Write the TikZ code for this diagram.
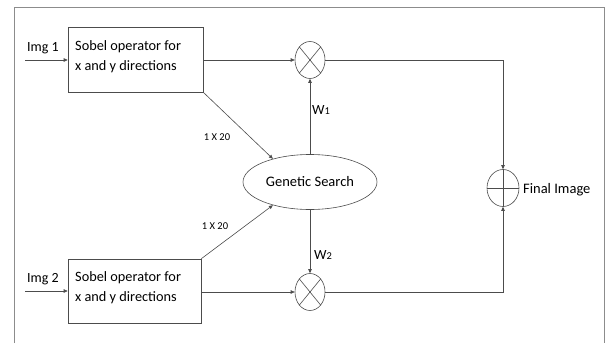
\documentclass[tikz,border=0pt]{standalone}
\usepackage{fontspec}
\setmainfont{Carlito}
\usetikzlibrary{arrows.meta,shapes.geometric}
\begin{document}
\begin{tikzpicture}[x=1pt,y=-1pt,
  line/.style={draw=black!70,line width=0.6pt},
  arr/.style={line,-{Triangle[length=4pt,width=3.5pt]}},
  sobel/.style={line,rectangle,minimum width=135pt,minimum height=65pt,inner sep=0pt},
  sobeltxt/.style={align=left,font=\fontsize{14.3}{20}\selectfont,inner sep=0pt,anchor=north west},
  oper/.style={line,ellipse,minimum width=30pt,minimum height=37pt,inner sep=0pt},
  lbl/.style={font=\fontsize{14}{16}\selectfont,inner sep=0pt},
  small/.style={font=\fontsize{10.5}{12}\selectfont,inner sep=0pt}]
\useasboundingbox (0,0) rectangle (612,343);
\draw[draw=black!45,line width=0.6pt] (14,343) -- (14,7) -- (604,7) -- (604,343);
% boxes
\node[sobel] (b1) at (135.5,59.5) {};
\node[sobeltxt] (s1) at (75,40) {Sobel operator for\\x and y directions};
\node[sobel,minimum width=133pt,minimum height=64pt] (b2) at (134.5,291) {};
\node[sobeltxt] (s2) at (75,271) {Sobel operator for\\x and y directions};
% inputs
\coordinate (i1) at (25,60);
\coordinate (i2) at (25,291);
\node[lbl,anchor=south west] (t1) at (27,54) {Img 1};
\node[lbl,anchor=south west] (t2) at (27,285) {Img 2};
\draw[arr] (i1) -- (b1.west |- i1);
\draw[arr] (i2) -- (b2.west |- i2);
% multipliers
\node[oper] (m1) at (310,60) {};
\node[oper] (m2) at (310,292) {};
\foreach \m in {m1,m2}{
  \draw[line] (\m.north west) -- (\m.south east);
  \draw[line] (\m.north east) -- (\m.south west);
}
% genetic search
\node[line,ellipse,minimum width=134pt,minimum height=55pt,inner sep=0pt,font=\fontsize{14.5}{16}\selectfont] (g) at (310,182) {Genetic Search};
% adder
\node[oper,minimum width=32pt] (a) at (503,188) {};
\draw[line] (a.north) -- (a.south);
\draw[line] (a.west) -- (a.east);
\node[lbl,anchor=west,font=\fontsize{14.5}{16}\selectfont] (fi) at (523,190) {Final Image};
% connections
\draw[arr] (b1.east |- m1) -- (m1.west);
\draw[arr] (b2.east |- m2) -- (m2.west);
\draw[arr] (b1.south east) -- (g.148);
\draw[arr] (b2.north east) -- (g.212);
\node[small] (l1) at (217,137) {1 X 20};
\node[small] (l2) at (215,226) {1 X 20};
\draw[arr] (g.north) -- (m1.south);
\draw[arr] (g.south) -- (m2.north);
\node[lbl,anchor=west] (w1) at (312,110) {W\raisebox{-0.5pt}{\fontsize{10.5}{11}\selectfont 1}};
\node[lbl,anchor=west] (w2) at (314,255) {W\raisebox{-0.5pt}{\fontsize{10.5}{11}\selectfont 2}};
\draw[arr] (m1.east) -| (a.north);
\draw[arr] (m2.east) -| (a.south);
\end{tikzpicture}
\end{document}
